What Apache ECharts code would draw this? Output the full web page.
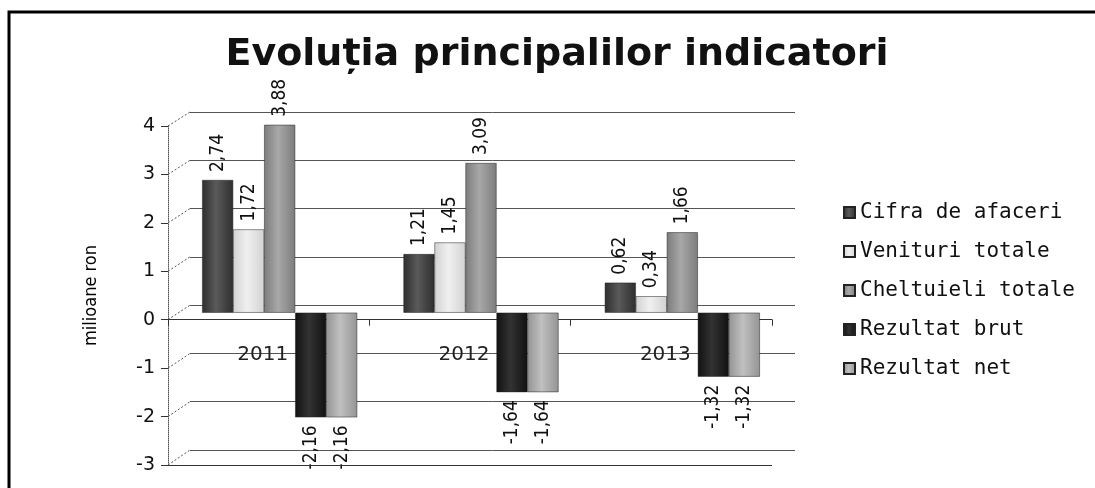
<!DOCTYPE html>
<html><head><meta charset="utf-8">
<script src="https://cdn.jsdelivr.net/npm/echarts@6/dist/echarts.min.js"></script>
<style>html,body{margin:0;padding:0;background:#fff}#c{width:1095px;height:488px}</style>
</head><body><div id="c"></div>
<script>
const categories = ['2011', '2012', '2013'];
const seriesNames = ['Cifra de afaceri', 'Venituri totale', 'Cheltuieli totale', 'Rezultat brut', 'Rezultat net'];
const cifraDeAfaceri = [2.74, 1.21, 0.62];
const veniturTotale = [1.72, 1.45, 0.34];
const cheltuieliTotale = [3.88, 3.09, 1.66];
const rezultatBrut = [-2.16, -1.64, -1.32];
const rezultatNet = [-2.16, -1.64, -1.32];
const yTicks = [-3, -2, -1, 0, 1, 2, 3, 4];

const seriesValues = [cifraDeAfaceri, veniturTotale, cheltuieliTotale, rezultatBrut, rezultatNet];
const colors = [
  ['#2e2e2e', '#5a5a5a'],
  ['#d2d2d2', '#f0f0f0'],
  ['#7c7c7c', '#a8a8a8'],
  ['#111111', '#333333'],
  ['#949494', '#c0c0c0']
];

const frontLeft = 168, backLeft = 190;
const chart = echarts.init(document.getElementById('c'), null, {renderer: 'canvas'});
const lblFont = '"DejaVu Sans Condensed", "Liberation Sans Narrow", "DejaVu Sans", sans-serif';

const barSeries = seriesNames.map((name, i) => ({
  name, type: 'bar', xAxisIndex: 2, yAxisIndex: 2,
  barGap: '0%', barCategoryGap: '23%',
  itemStyle: {
    color: new echarts.graphic.LinearGradient(0, 0, 1, 0, [
      {offset: 0, color: colors[i][0]}, {offset: 0.45, color: colors[i][1]}, {offset: 1, color: colors[i][0]}
    ]),
    borderColor: '#222', borderWidth: 0.5
  },
  data: seriesValues[i].map(v => ({value: v, label: {align: v < 0 ? 'right' : 'left'}})),
  label: {
    show: true, position: 'outside', rotate: 90, distance: 8, verticalAlign: 'middle',
    fontFamily: lblFont, fontSize: 19, color: '#111',
    formatter: p => p.value.toFixed(2).replace('.', ',')
  }
}));

const floorSeries = {
  name: 'floor', type: 'line', xAxisIndex: 0, yAxisIndex: 0, data: [], silent: true,
  markLine: {
    symbol: 'none', silent: true, label: {show: false},
    lineStyle: {color: '#333', type: 'solid', width: 1},
    data: [{yAxis: yTicks[0]}]
  }
};

chart.setOption({
  animation: false,
  backgroundColor: '#ffffff',
  title: {
    text: 'Evoluția principalilor indicatori',
    left: 552, textAlign: 'center', top: 31,
    textStyle: {fontFamily: '"DejaVu Sans", sans-serif', fontWeight: 'bold', fontSize: 38, color: '#111'}
  },
  legend: {
    orient: 'vertical', left: 838, top: 197,
    icon: 'rect', itemWidth: 11, itemHeight: 11, itemGap: 18,
    data: seriesNames,
    textStyle: {fontFamily: '"DejaVu Sans Mono", monospace', fontSize: 21, color: '#111', lineHeight: 21}
  },
  grid: [
    {left: frontLeft, right: 323, top: 126, bottom: 23, outerBoundsMode: 'none'},
    {left: backLeft, right: 300, top: 112, bottom: 38, outerBoundsMode: 'none'},
    {left: 179, right: 312, top: 119, bottom: 30, outerBoundsMode: 'none'}
  ],
  xAxis: [
    {
      gridIndex: 0, type: 'category', data: categories, position: 'bottom',
      axisLine: {onZero: true, lineStyle: {color: '#333', width: 1}},
      axisTick: {show: true, length: 6, lineStyle: {color: '#333'}},
      axisLabel: {margin: -120, fontFamily: '"DejaVu Sans", sans-serif', fontSize: 20, color: '#222', padding: [0, 12, 0, 0]},
      splitLine: {show: false}
    },
    {gridIndex: 1, type: 'category', data: categories, show: false},
    {gridIndex: 2, type: 'category', data: categories, show: false}
  ],
  yAxis: [
    {
      gridIndex: 0, type: 'value', min: -3, max: 4, interval: 1,
      name: 'milioane ron', nameLocation: 'middle', nameRotate: 90, nameGap: 68,
      nameTextStyle: {fontFamily: lblFont, fontSize: 18, color: '#000'},
      axisLine: {show: true, lineStyle: {color: '#555', type: 'dotted'}},
      axisTick: {show: true, length: 7, lineStyle: {color: '#333'}},
      axisLabel: {margin: 13, fontFamily: '"DejaVu Sans", sans-serif', fontSize: 19, color: '#111',
        formatter: v => yTicks.includes(v) ? String(v) : ''},
      splitLine: {show: false}
    },
    {
      gridIndex: 1, type: 'value', min: -3, max: 4, interval: 1,
      axisLine: {show: false}, axisTick: {show: false}, axisLabel: {show: false},
      splitLine: {show: true, lineStyle: {color: '#555', width: 1}}
    },
    {
      gridIndex: 2, type: 'value', min: -3, max: 4, interval: 1, show: false,
      splitLine: {show: false}
    }
  ],
  series: barSeries.concat([floorSeries])
});

// 3D-style connectors from front axis ticks to back-wall gridlines, positioned through the axes' scales
const connectors = yTicks.map(v => {
  const y0 = chart.convertToPixel({yAxisIndex: 0}, v);
  const y1 = chart.convertToPixel({yAxisIndex: 1}, v);
  return {
    type: 'line', silent: true,
    shape: {x1: frontLeft, y1: y0, x2: backLeft, y2: y1},
    style: {stroke: '#555', lineWidth: 1, lineDash: [2, 2]}
  };
});
chart.setOption({graphic: [{
  type: 'rect', shape: {x: 9, y: 12, width: 1100, height: 490},
  style: {fill: 'none', stroke: '#000', lineWidth: 3}, silent: true
}].concat(connectors)});
</script></body></html>
